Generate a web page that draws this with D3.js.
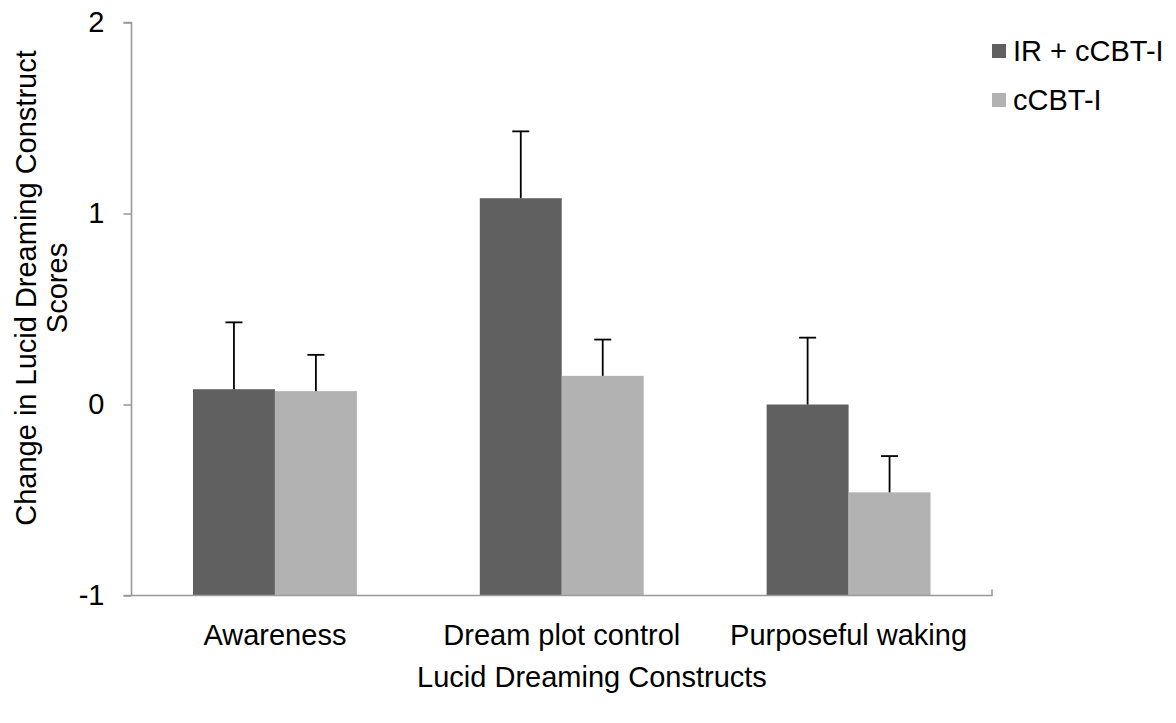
<!DOCTYPE html>
<html>
<head>
<meta charset="utf-8">
<script src="https://cdn.jsdelivr.net/npm/d3@7"></script>
<style>
  body { margin: 0; background: #fff; }
  svg { display: block; font-family: "Liberation Sans", Arial, sans-serif; }
</style>
</head>
<body>
<svg id="chart" width="1176" height="723"></svg>
<script>
const categories = ["Awareness", "Dream plot control", "Purposeful waking"];
const seriesNames = ["IR + cCBT-I", "cCBT-I"];
const irValues = [0.08, 1.08, 0.00];
const irErrors = [0.35, 0.35, 0.35];
const cbtValues = [0.07, 0.15, -0.46];
const cbtErrors = [0.19, 0.19, 0.19];
const yTicks = [-1, 0, 1, 2];
const colors = ["#606060", "#b2b2b2"];

const series = [
  { name: seriesNames[0], values: irValues, errors: irErrors, color: colors[0] },
  { name: seriesNames[1], values: cbtValues, errors: cbtErrors, color: colors[1] }
];

const svg = d3.select("#chart");
const mLeft = 131.5, mRight = 992, mTop = 22.5, mBottom = 595.5;
const FS = 29;

const y = d3.scaleLinear().domain([-1, 2]).range([mBottom, mTop]);
const x0 = d3.scaleBand().domain(categories).range([mLeft, mRight]).paddingInner(0).paddingOuter(0);
const groupInner = 164 / 287;
const x1 = d3.scaleBand().domain(seriesNames)
  .range([0, x0.bandwidth() * groupInner]);
const groupOffset = (x0.bandwidth() - x0.bandwidth() * groupInner) / 2;

// bars (drawn from the axis crossing at -1)
series.forEach(s => {
  svg.append("g").selectAll("rect").data(categories).join("rect")
    .attr("x", (c) => x0(c) + groupOffset + x1(s.name))
    .attr("width", x1.bandwidth())
    .attr("y", (c, i) => y(s.values[i]))
    .attr("height", (c, i) => y(-1) - y(s.values[i]))
    .attr("fill", s.color);
});

// error bars (plus only)
series.forEach(s => {
  const g = svg.append("g").attr("stroke", "#000").attr("stroke-width", 1.8);
  categories.forEach((c, i) => {
    const cx = x0(c) + groupOffset + x1(s.name) + x1.bandwidth() / 2;
    const yv = y(s.values[i]);
    const ye = y(s.values[i] + s.errors[i]);
    g.append("line").attr("x1", cx).attr("x2", cx).attr("y1", yv).attr("y2", ye);
    g.append("line").attr("x1", cx - 8.5).attr("x2", cx + 8.5).attr("y1", ye).attr("y2", ye);
  });
});

// y axis
const yAxis = d3.axisLeft(y).tickValues(yTicks).tickSize(8).tickPadding(19).tickFormat(d => String(d));
const gy = svg.append("g").attr("transform", `translate(${mLeft},0)`).call(yAxis);
gy.select(".domain").attr("stroke", "#9a9a9a").attr("stroke-width", 1.6).attr("d", `M-8,${mTop}H0V${mBottom}`);
gy.selectAll(".tick line").attr("stroke", "#9a9a9a").attr("stroke-width", 1.6);
gy.selectAll(".tick text").attr("font-size", FS).attr("fill", "#000")
  .attr("font-family", "Liberation Sans, Arial, sans-serif");

// x axis
const xAxis = d3.axisBottom(x0).tickSize(0).tickPadding(29);
const gx = svg.append("g").attr("transform", `translate(0,${mBottom})`).call(xAxis);
gx.select(".domain").attr("stroke", "#9a9a9a").attr("stroke-width", 1.6)
  .attr("d", `M${mLeft - 8},0H${mRight}V-6`);
gx.selectAll(".tick text").attr("font-size", FS).attr("fill", "#000")
  .attr("font-family", "Liberation Sans, Arial, sans-serif");

// axis titles
svg.append("text").attr("x", 592).attr("y", 687)
  .attr("text-anchor", "middle").attr("font-size", FS).text("Lucid Dreaming Constructs");

const yt = svg.append("text").attr("transform", `translate(36,288) rotate(-90)`)
  .attr("text-anchor", "middle").attr("font-size", FS);
yt.append("tspan").attr("x", 0).attr("dy", 0).text("Change in Lucid Dreaming Construct");
yt.append("tspan").attr("x", 0).attr("dy", 31).text("Scores");

// legend
const lg = svg.append("g").attr("transform", "translate(992,44)");
series.forEach((s, i) => {
  const row = lg.append("g").attr("transform", `translate(0,${i * 49})`);
  row.append("rect").attr("width", 14).attr("height", 14).attr("fill", s.color);
  row.append("text").attr("x", 21).attr("y", 7).attr("dy", "0.36em")
    .attr("font-size", FS).text(s.name);
});
</script>
</body>
</html>
